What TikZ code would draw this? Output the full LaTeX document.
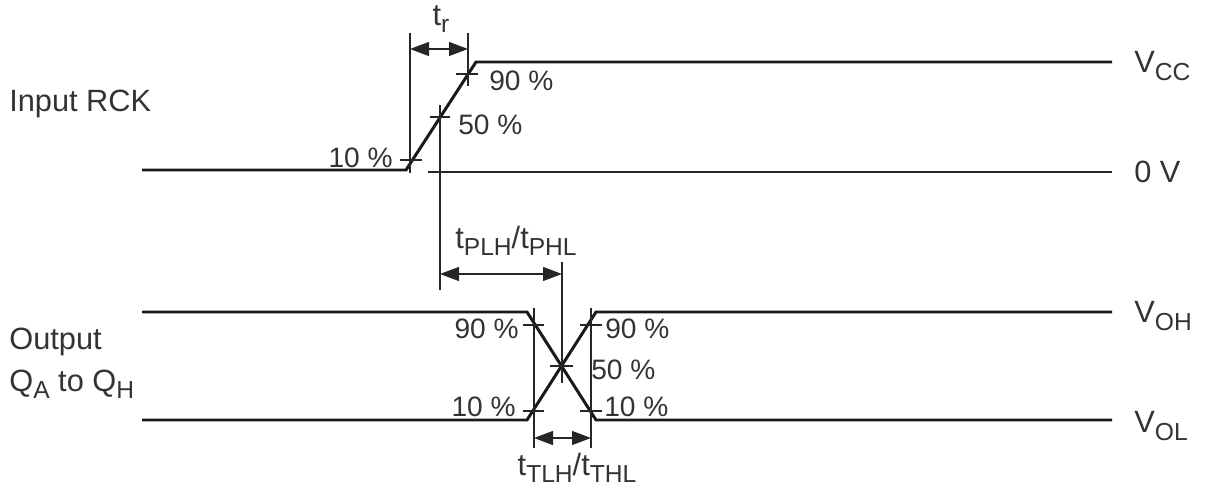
\documentclass[tikz,border=0pt]{standalone}
\usepackage{fontspec}
\setmainfont{Liberation Sans}
\usetikzlibrary{arrows.meta}
\newcommand{\lowsub}[1]{\raisebox{-0.45ex}{\fontsize{14}{16}\selectfont #1}}

\begin{document}
\begin{tikzpicture}[x=0.02cm, y=-0.02cm, >={Triangle[length=3.8mm,width=2.8mm]},
  wave/.style={line width=1.7pt, draw=black!90},
  guide/.style={line width=0.6pt, draw=black!85},
  dim/.style={guide,<->},
  lbl/.style={inner sep=0pt, text=black!80, font=\fontsize{17.5}{21}\selectfont},
  pct/.style={lbl, font=\fontsize{16}{19}\selectfont}]
\useasboundingbox (0,0) rectangle (1206,493);
% input RCK
\coordinate (inLo) at (142,170); \coordinate (inA) at (406,170);
\coordinate (inB) at (476,62); \coordinate (inHi) at (1112,62);
\draw[wave] (inLo) -- (inA) -- (inB) -- (inHi);
\draw[guide] (428,172) -- (1112,172);
\draw[guide] (400,160) -- (422,160); \draw[guide] (430,117) -- (450,117); \draw[guide] (456,74) -- (478,74);
\draw[guide] (410,33) -- (410,173); \draw[guide] (440,105) -- (440,290); \draw[guide] (468,33) -- (468,86);
\draw[dim] (410,49) -- (468,49);
\node[lbl] (tr) at (441,19) {t\lowsub{r}};
\node[pct,anchor=west] (p90a) at (489,81) {90 \%};
\node[pct,anchor=west] (p50a) at (458,125) {50 \%};
\node[pct,anchor=east] (p10a) at (393,158) {10 \%};
\node[lbl,anchor=west] (rck) at (9,104) {Input RCK};
\node[lbl,anchor=west] (vcc) at (1134,66) {V\lowsub{CC}};
\node[lbl,anchor=west] (zero) at (1134,172) {0 V};
% output QA..QH
\coordinate (hiL) at (142,312); \coordinate (hiA) at (527,312);
\coordinate (loL) at (142,420); \coordinate (loA) at (527,420);
\coordinate (hiB) at (596,312); \coordinate (hiR) at (1112,312);
\coordinate (loB) at (596,420); \coordinate (loR) at (1112,420);
\draw[wave] (hiL) -- (hiA) -- (loB) -- (loR);
\draw[wave] (loL) -- (loA) -- (hiB) -- (hiR);
\draw[guide] (523,325) -- (544,325); \draw[guide] (580,325) -- (602,325);
\draw[guide] (523,411) -- (544,411); \draw[guide] (580,411) -- (602,411);
\draw[guide] (550,366) -- (573,366);
\draw[guide] (534,308) -- (534,448); \draw[guide] (591,308) -- (591,448); \draw[guide] (562,262) -- (562,383);
\draw[dim] (440,274) -- (562,274);
\draw[dim] (534,438) -- (591,438);
\node[lbl] (tp) at (516,241) {t\lowsub{PLH}/t\lowsub{PHL}};
\node[lbl] (tt) at (577,468) {t\lowsub{TLH}/t\lowsub{THL}};
\node[pct,anchor=east] (p90b) at (519,329) {90 \%};
\node[pct,anchor=east] (p10b) at (516,407) {10 \%};
\node[pct,anchor=west] (p90c) at (605,329) {90 \%};
\node[pct,anchor=west] (p50c) at (591,370) {50 \%};
\node[pct,anchor=west] (p10c) at (604,407) {10 \%};
\node[lbl,anchor=west] (outp) at (9,342) {Output};
\node[lbl,anchor=west] (qaqh) at (9,384) {Q\lowsub{A} to Q\lowsub{H}};
\node[lbl,anchor=west] (voh) at (1134,316) {V\lowsub{OH}};
\node[lbl,anchor=west] (vol) at (1134,426) {V\lowsub{OL}};
\end{tikzpicture}
\end{document}
